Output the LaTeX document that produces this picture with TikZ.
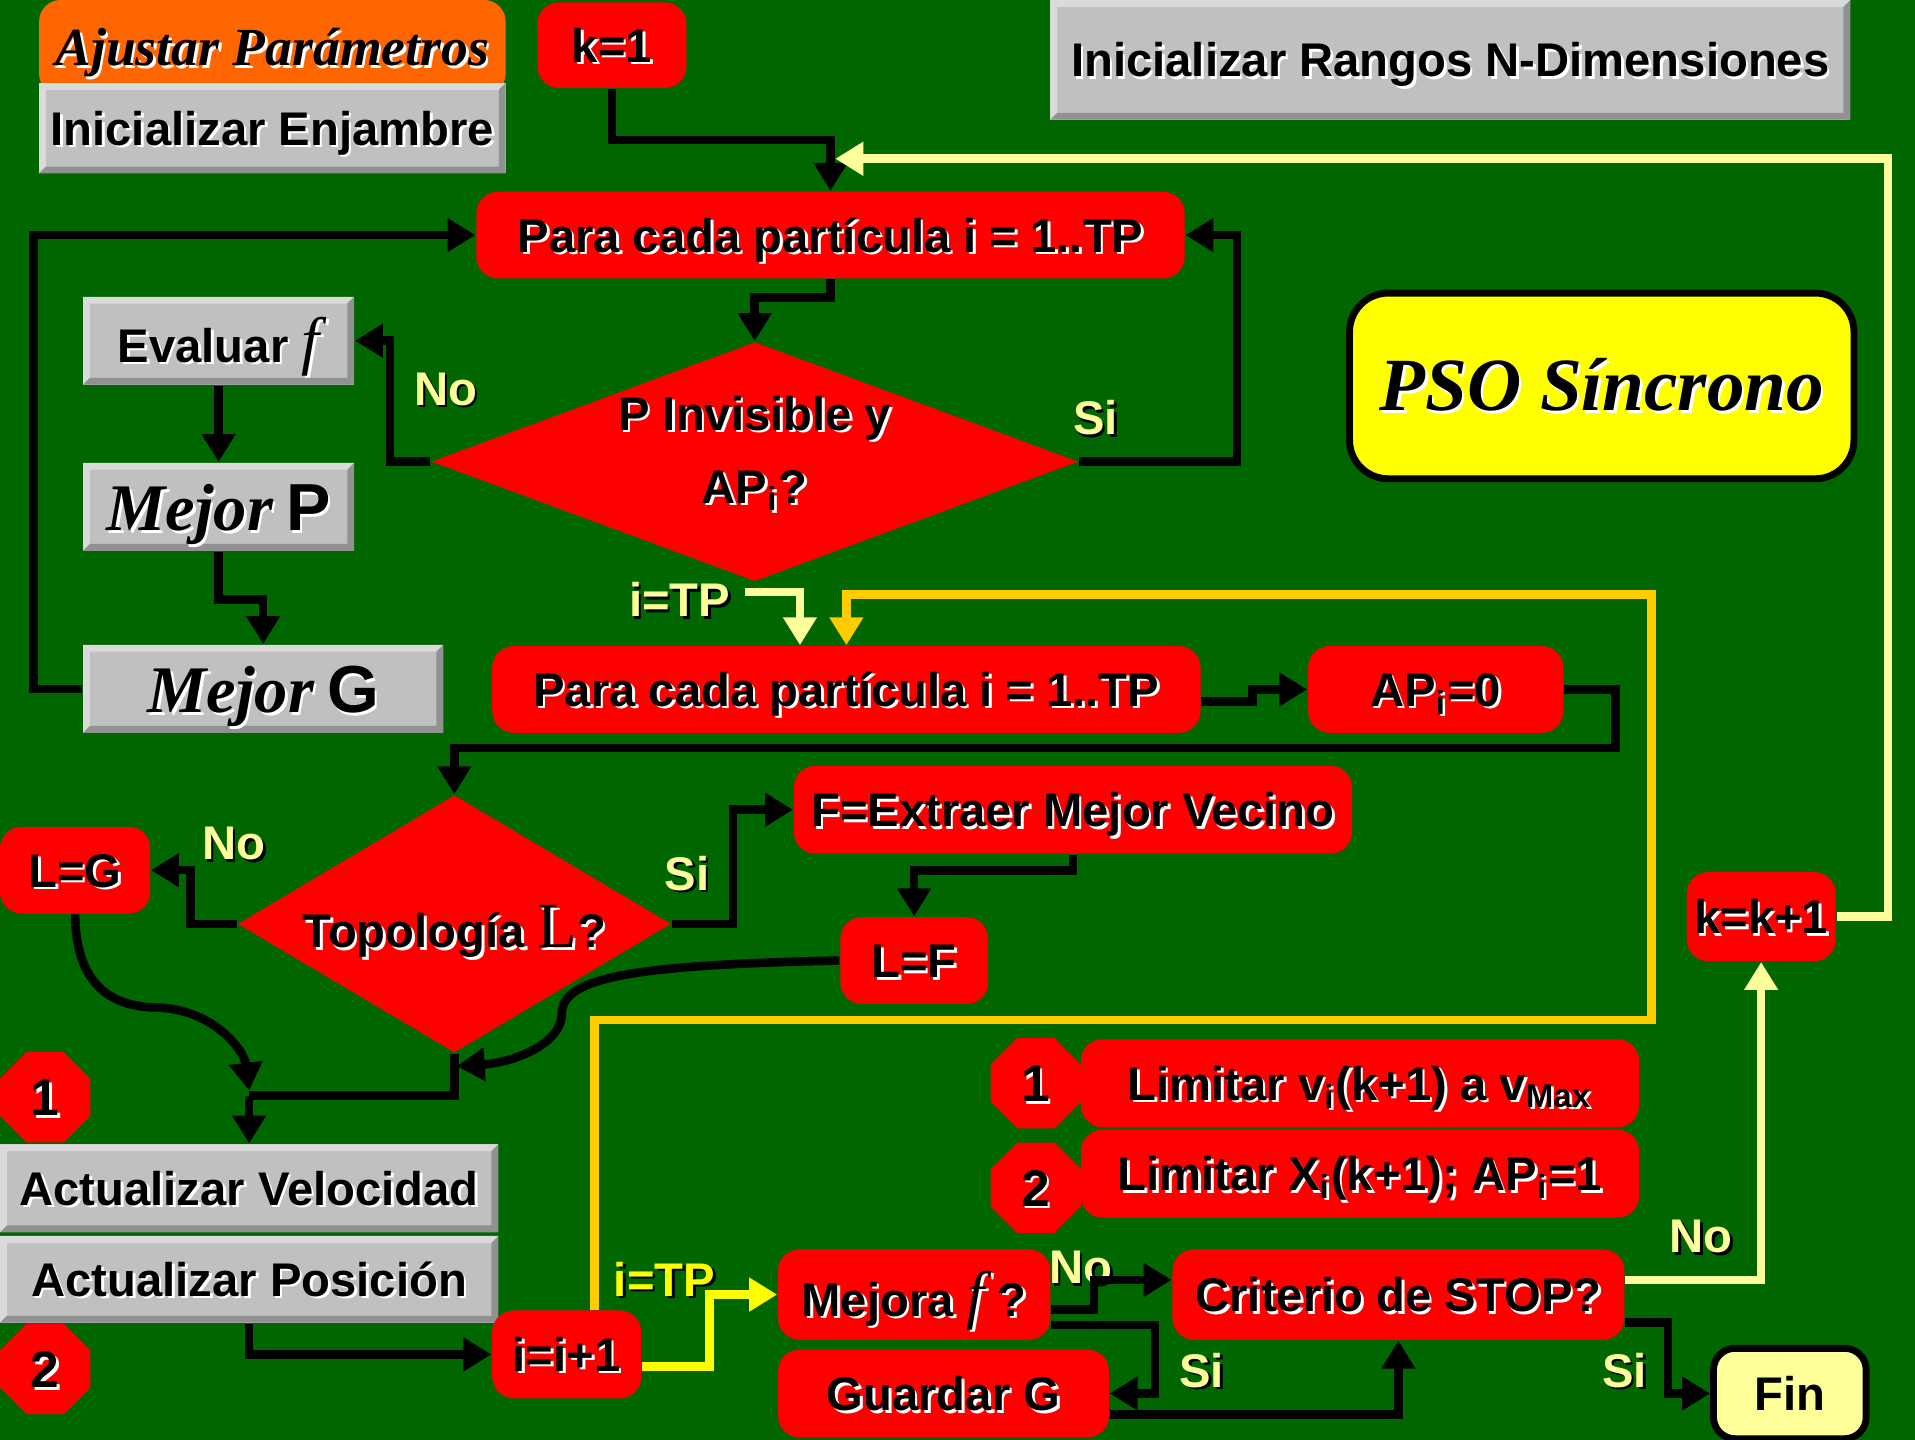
\documentclass[tikz,border=0pt]{standalone}
\usepackage{fontspec}
\setmainfont{Liberation Sans}
\newfontfamily\tnr{Liberation Serif}
\usetikzlibrary{arrows.meta, positioning, shapes.geometric, calc}
\definecolor{fondo}{RGB}{0,102,0}
\definecolor{rojo}{RGB}{255,0,0}
\definecolor{gris}{RGB}{192,192,192}
\definecolor{grisclaro}{RGB}{218,218,218}
\definecolor{grisoscuro}{RGB}{145,145,145}
\definecolor{naranja}{RGB}{255,102,0}
\definecolor{amarillo}{RGB}{255,255,0}
\definecolor{amarclaro}{RGB}{255,255,153}
\definecolor{oro}{RGB}{255,204,0}
\newcommand{\sh}[2][white]{\makebox[0pt][l]{\raisebox{-0.6pt}{\hspace*{0.6pt}\textcolor{#1}{#2}}}#2}
\newcommand{\efe}{{\tnr\mdseries\itshape\fontsize{15}{15}\selectfont f}}
\newcommand{\mejor}{{\tnr\bfseries\itshape\fontsize{15.5}{18}\selectfont Mejor}}

\begin{document}
\begin{tikzpicture}[
        x=1cm, y=-1cm,
        every node/.style={font=\fontsize{11}{13}\selectfont\bfseries, inner sep=0pt, text height=7.9pt, text depth=0pt},
        caja/.style={rectangle, rounded corners=5pt, fill=rojo},
        gris3d/.style={rectangle, fill=gris, path picture={
            \fill[grisclaro] (path picture bounding box.south west) |- (path picture bounding box.north east)
                -- ++(-1.6pt,-1.6pt) -| ([shift={(1.6pt,1.6pt)}]path picture bounding box.south west) -- cycle;
            \fill[grisoscuro] (path picture bounding box.north east) |- (path picture bounding box.south west)
                -- ++(1.6pt,1.6pt) -| ([shift={(-1.6pt,-1.6pt)}]path picture bounding box.north east) -- cycle;
        }},
        rombo/.style={diamond, fill=rojo},
        octo/.style={regular polygon, regular polygon sides=8, fill=rojo, minimum size=0.80cm,
            font=\fontsize{12}{14}\selectfont\bfseries, text height=8.6pt},
        etiq/.style={text=amarclaro},
        linea/.style={draw=black, line width=2pt},
        flecha/.style={linea, -{Triangle[length=6.5pt,width=7.5pt]}},
        flechacl/.style={flecha, draw=amarclaro},
        flechaam/.style={flecha, draw=amarillo},
        flechaoro/.style={flecha, draw=oro}
    ]
        \fill[fondo] (0,0) rectangle (15.68,11.79);
        \useasboundingbox (0,0) rectangle (15.68,11.79);

        \node[rectangle, rounded corners=5pt, fill=naranja, minimum width=3.82cm, minimum height=0.78cm, text height=8.3pt,
            font=\tnr\bfseries\itshape\fontsize{12.5}{15}\selectfont] (ajustar) at (2.23,0.39) {\sh{Ajustar Parámetros}};
        \node[gris3d, minimum width=3.82cm, minimum height=0.74cm] (enjambre) at (2.23,1.05) {\sh{Inicializar Enjambre}};
        \node[caja, minimum width=1.22cm, minimum height=0.70cm] (k1) at (5.01,0.37) {\sh{k=1}};
        \node[gris3d, minimum width=6.55cm, minimum height=0.98cm] (rangos) at (11.875,0.49) {\sh{Inicializar Rangos N-Dimensiones}};
        \node[caja, minimum width=5.80cm, minimum height=0.71cm] (para1) at (6.80,1.925) {\sh{Para cada partícula i = 1..TP}};
        \node[fill=amarillo, draw=black, line width=1.6pt, rounded corners=9pt, minimum width=4.13cm, minimum height=1.52cm,
            text height=11.6pt, font=\tnr\bfseries\itshape\fontsize{17.5}{20}\selectfont] (pso) at (13.115,3.16) {\sh{PSO Síncrono}};

        \node[gris3d, minimum width=2.22cm, minimum height=0.72cm, text height=10pt] (evalf) at (1.79,2.79) {\sh{Evaluar \efe}};
        \node[gris3d, minimum width=2.22cm, minimum height=0.72cm, text height=11.1pt] (mejorp) at (1.79,4.15)
            {\sh{\mejor{} {\fontsize{15.5}{18}\selectfont P}}};
        \node[gris3d, minimum width=2.95cm, minimum height=0.72cm, text height=11.1pt] (mejorg) at (2.155,5.64)
            {\sh{\mejor{} {\fontsize{15.5}{18}\selectfont G}}};
        \node[rombo, aspect=2.7, minimum width=5.30cm, minimum height=1.96cm, align=center, text height=19.3pt] (rombo1) at (6.18,3.78)
            {\sh{P Invisible y}\\[4pt]\sh{AP\textsubscript{i}?}};

        \node[caja, minimum width=5.80cm, minimum height=0.71cm] (para2) at (6.93,5.645) {\sh{Para cada partícula i = 1..TP}};
        \node[caja, minimum width=2.09cm, minimum height=0.71cm] (ap0) at (11.755,5.645) {\sh{AP\textsubscript{i}=0}};
        \node[rombo, aspect=1.68, minimum width=3.55cm, minimum height=2.11cm, text height=11pt] (rombo2) at (3.72,7.565)
            {\sh{Topología {\tnr\mdseries\fontsize{15}{15}\selectfont L}?}};
        \node[caja, minimum width=1.23cm, minimum height=0.71cm] (lg) at (0.615,7.125) {\sh{L=G}};
        \node[caja, minimum width=4.57cm, minimum height=0.72cm] (fe) at (8.785,6.63) {\sh{F=Extraer Mejor Vecino}};
        \node[caja, minimum width=1.21cm, minimum height=0.71cm] (lf) at (7.485,7.865) {\sh{L=F}};

        \node[octo] (uno) at (0.37,8.985) {\sh{1}};
        \node[octo] (dos) at (0.37,11.21) {\sh{2}};
        \node[gris3d, minimum width=4.08cm, minimum height=0.72cm] (velocidad) at (2.04,9.73) {\sh{Actualizar Velocidad}};
        \node[gris3d, minimum width=4.08cm, minimum height=0.71cm] (posicion) at (2.04,10.475) {\sh{Actualizar Posición}};
        \node[caja, minimum width=1.22cm, minimum height=0.72cm] (ii) at (4.64,11.09) {\sh{i=i+1}};
        \node[caja, minimum width=2.23cm, minimum height=0.74cm, text height=10pt] (mf) at (7.485,10.60) {\sh{Mejora \efe{} ?}};
        \node[caja, minimum width=2.71cm, minimum height=0.72cm] (gg) at (7.725,11.41) {\sh{Guardar G}};
        \node[caja, minimum width=3.70cm, minimum height=0.74cm] (cs) at (11.45,10.60) {\sh{Criterio de STOP?}};
        \node[fill=amarclaro, draw=black, line width=1.6pt, rounded corners=5pt, minimum width=1.25cm, minimum height=0.74cm]
            (fin) at (14.655,11.41) {Fin};
        \node[caja, minimum width=1.22cm, minimum height=0.73cm] (kk) at (14.42,7.505) {\sh{k=k+1}};

        \node[octo] (uno2) at (8.48,8.87) {\sh{1}};
        \node[octo] (dos2) at (8.48,9.725) {\sh{2}};
        \node[caja, minimum width=4.57cm, minimum height=0.72cm] (limv) at (11.135,8.87)
            {\sh{Limitar v\textsubscript{i}(k+1) a v\textsubscript{Max}}};
        \node[caja, minimum width=4.57cm, minimum height=0.72cm] (limx) at (11.135,9.61)
            {\sh{Limitar X\textsubscript{i}(k+1); AP\textsubscript{i}=1}};

        \node[etiq] (noA) at (3.65,3.18) {\sh[black]{No}};
        \node[etiq] (siA) at (8.97,3.42) {\sh[black]{Si}};
        \node[etiq] (tpA) at (5.565,4.91) {\sh[black]{i=TP}};
        \node[etiq] (noB) at (1.915,6.90) {\sh[black]{No}};
        \node[etiq] (siB) at (5.625,7.15) {\sh[black]{Si}};
        \node[text=amarillo] (tpB) at (5.44,10.475) {\sh[black]{i=TP}};
        \node[etiq] (noC) at (8.85,10.37) {\sh[black]{No}};
        \node[etiq] (siC) at (9.84,11.22) {\sh[black]{Si}};
        \node[etiq] (noD) at (13.93,10.12) {\sh[black]{No}};
        \node[etiq] (siD) at (13.30,11.22) {\sh[black]{Si}};

        \coordinate (lazo) at (6.84,1.30);
        \coordinate (juntaF) at (3.74,8.73);
        \coordinate (juntaG) at (2.04,8.93);
        \coordinate (junta) at (2.04,8.97);

        \draw[flecha] (k1.south) -- ++(0,0.42) -| (para1.north);
        \draw[flechacl] (kk.east) -- ++(0.42,0) |- (lazo);
        \draw[flecha] (para1.south) -- ++(0,0.15) -| (rombo1.north);
        \draw[flecha] (rombo1.west) -- ++(-0.33,0) |- (evalf.east);
        \draw[flecha] (rombo1.east) -- ++(1.29,0) |- (para1.east);
        \draw[flecha] (evalf.south) -- (mejorp.north);
        \draw[flecha] (mejorp.south) -- ++(0,0.39) -| (mejorg.north);
        \draw[flecha] (mejorg.west) -- ++(-0.40,0) |- (para1.west);
        \draw[flechacl] ([xshift=-0.08cm,yshift=-0.08cm]rombo1.south) -- ++(0.45,0) -| ([xshift=-0.38cm]para2.north);
        \draw[flechaoro] ([xshift=0.23cm]ii.north) -- ++(0,-2.37) -| (13.52,4.87) -| (para2.north);

        \draw[flecha] ([yshift=-0.1cm]para2.east) -- ++(0.42,0) |- (ap0.west);
        \draw[flecha] (ap0.east) -- ++(0.42,0) -- ++(0,0.48) -| (rombo2.north);
        \draw[flecha] (rombo2.west) -- ++(-0.38,0) |- (lg.east);
        \draw[flecha] (rombo2.east) -- ++(0.50,0) |- (fe.west);
        \draw[flecha] (fe.south) -- ++(0,0.13) -| (lf.north);
        \draw[flecha] (lf.west) .. controls (5.2,7.9) and (4.6,8.0) .. (4.6,8.3) .. controls (4.6,8.55) and (4.2,8.7) .. (juntaF);
        \draw[flecha] (lg.south) .. controls (0.62,8.1) and (0.95,8.25) .. (1.3,8.25) .. controls (1.75,8.27) and (2.0,8.6) .. (juntaG);
        \draw[linea] (rombo2.south) |- (junta);
        \draw[flecha] (junta) -- (velocidad.north);

        \draw[flecha] (posicion.south) |- (ii.west);
        \draw[flechaam] ([yshift=-0.1cm]ii.east) -- ++(0.55,0) |- (mf.west);
        \draw[flecha] ([yshift=-0.12cm]mf.east) -- ++(0.35,0) |- ([yshift=0.12cm]cs.west);
        \draw[flecha] ([yshift=-0.25cm]mf.east) -- ++(0.85,0) |- (gg.east);
        \draw[flecha] ([yshift=-0.17cm]gg.east) -| (cs.south);
        \draw[flechacl] ([yshift=0.12cm]cs.east) -| (kk.south);
        \draw[flecha] ([yshift=-0.23cm]cs.east) -- ++(0.35,0) |- (fin.west);
    \end{tikzpicture}
\end{document}
